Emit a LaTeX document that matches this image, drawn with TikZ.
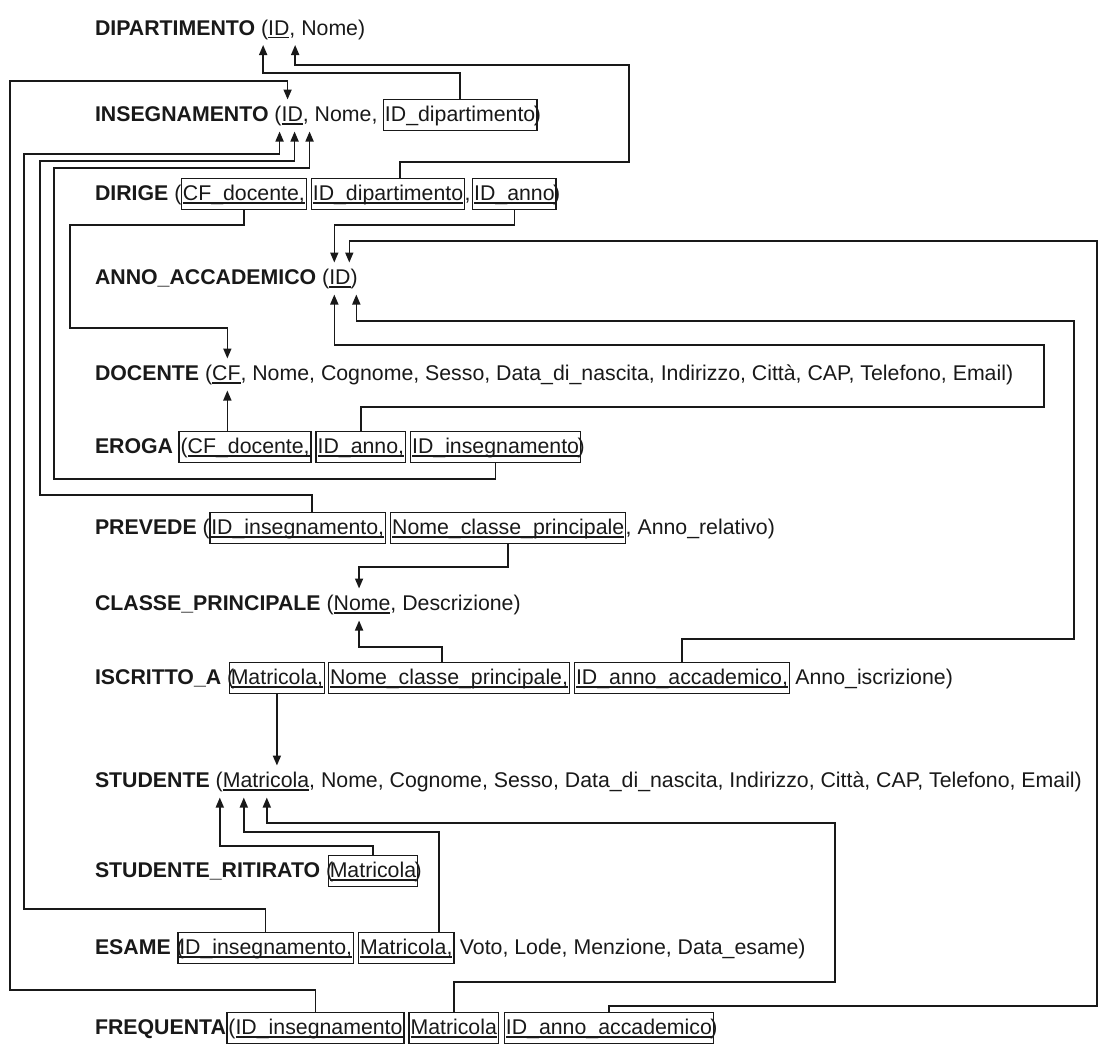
\documentclass[tikz,border=0pt]{standalone}
\usepackage{fontspec}
\setmainfont{Liberation Sans}
\usetikzlibrary{arrows.meta}
\newsavebox\ulbox
\newcommand\myul[1]{\sbox\ulbox{#1}\rlap{\rule[-3pt]{\wd\ulbox}{1.2pt}}\usebox\ulbox}
\tikzset{
  every node/.style={inner sep=0pt, outer sep=0pt, anchor=base west, text height=15pt, text depth=5pt, font=\fontsize{21.3pt}{25pt}\selectfont, text=black!90},
  rel/.style={font=\fontsize{21.3pt}{25pt}\selectfont\bfseries},
  fkbox/.style={draw=black!90, line width=1.5pt, inner xsep=1.5pt, inner ysep=5pt, text height=17pt, text depth=4pt},
  fk/.style={->, line width=1.6pt, draw=black!90},
}
\begin{document}
\begin{tikzpicture}[x=1pt, y=-1pt, >={Triangle[length=10pt,width=8pt]}]
\fill[white] (0,0) rectangle (1100,1044);
\useasboundingbox (0,0) rectangle (1100,1044);

% DIPARTIMENTO
\node[rel] (dip) at (95,35) {DIPARTIMENTO};
\node (dip1) at (dip.base east) {\ (};
\node (dipID) at (dip1.base east) {\myul{ID}};
\node (dip2) at (dipID.base east) {,\ Nome)};

% INSEGNAMENTO
\node[rel] (ins) at (95,121.5) {INSEGNAMENTO};
\node (ins1) at (ins.base east) {\ (};
\node (insID) at (ins1.base east) {\myul{ID}};
\node (ins2) at (insID.base east) {,\ Nome,};
\node[fkbox] (insDip) at ([xshift=6pt]ins2.base east) {ID\_dipartimento};
\node (ins3) at ([xshift=-3pt]insDip.base east) {)};

% DIRIGE
\node[rel] (dir) at (95,200.5) {DIRIGE};
\node (dir1) at (dir.base east) {\ (};
\node[fkbox] (dirCF) at (dir1.base east) {\myul{CF\_docente,}};
\node[fkbox] (dirDip) at ([xshift=5pt]dirCF.base east) {\myul{ID\_dipartimento}};
\node (dir2) at (dirDip.base east) {,};
\node[fkbox] (dirAnno) at ([xshift=2pt]dir2.base east) {\myul{ID\_anno}};
\node (dir3) at ([xshift=-3pt]dirAnno.base east) {)};

% ANNO_ACCADEMICO
\node[rel] (anno) at (95,284.5) {ANNO\_ACCADEMICO};
\node (anno1) at (anno.base east) {\ (};
\node (annoID) at (anno1.base east) {\myul{ID}};
\node (anno2) at (annoID.base east) {)};

% DOCENTE
\node[rel] (doc) at (95,380.5) {DOCENTE};
\node (doc1) at (doc.base east) {\ (};
\node (docCF) at (doc1.base east) {\myul{CF}};
\node (doc2) at (docCF.base east) {, Nome, Cognome, Sesso, Data\_di\_nascita, Indirizzo, Città, CAP, Telefono, Email)};

% EROGA
\node[rel] (ero) at (95,453.5) {EROGA};
\node[fkbox] (eroCF) at ([xshift=6pt]ero.base east) {(\myul{CF\_docente,}};
\node[fkbox] (eroAnno) at ([xshift=5pt]eroCF.base east) {\myul{ID\_anno,}};
\node[fkbox] (eroIns) at ([xshift=5pt]eroAnno.base east) {\myul{ID\_insegnamento}};
\node (ero2) at ([xshift=-3pt]eroIns.base east) {)};

% PREVEDE
\node[rel] (pre) at (95,534.5) {PREVEDE};
\node (pre1) at (pre.base east) {\ (};
\node[fkbox] (preIns) at (pre1.base east) {\myul{ID\_insegnamento,}};
\node[fkbox] (preNom) at ([xshift=5pt]preIns.base east) {\myul{Nome\_classe\_principale}};
\node (pre2) at (preNom.base east) {,\ Anno\_relativo)};

% CLASSE_PRINCIPALE
\node[rel] (cla) at (95,610.5) {CLASSE\_PRINCIPALE};
\node (cla1) at (cla.base east) {\ (};
\node (claNom) at (cla1.base east) {\myul{Nome}};
\node (cla2) at (claNom.base east) {,\ Descrizione)};

% ISCRITTO_A
\node[rel] (isc) at (95,684.5) {ISCRITTO\_A};
\node (isc1) at (isc.base east) {\ (};
\node[fkbox] (iscMat) at ([xshift=-5pt]isc1.base east) {\myul{Matricola,}};
\node[fkbox] (iscNom) at ([xshift=4pt]iscMat.base east) {\myul{Nome\_classe\_principale,}};
\node[fkbox] (iscAnno) at ([xshift=5pt]iscNom.base east) {\myul{ID\_anno\_accademico,}};
\node (isc2) at (iscAnno.base east) {\ Anno\_iscrizione)};

% STUDENTE
\node[rel] (stu) at (95,787.5) {STUDENTE};
\node (stu1) at (stu.base east) {\ (};
\node (stuMat) at (stu1.base east) {\myul{Matricola}};
\node (stu2) at (stuMat.base east) {, Nome, Cognome, Sesso, Data\_di\_nascita, Indirizzo, Città, CAP, Telefono, Email)};

% STUDENTE_RITIRATO
\node[rel] (rit) at (95,877.5) {STUDENTE\_RITIRATO};
\node (rit1) at (rit.base east) {\ (};
\node[fkbox] (ritMat) at ([xshift=-5pt]rit1.base east) {\myul{Matricola}};
\node (rit2) at ([xshift=-3pt]ritMat.base east) {)};

% ESAME
\node[rel] (esa) at (95,954.5) {ESAME};
\node (esa1) at (esa.base east) {\ (};
\node[fkbox] (esaIns) at ([xshift=-6pt]esa1.base east) {\myul{ID\_insegnamento,}};
\node[fkbox] (esaMat) at ([xshift=5pt]esaIns.base east) {\myul{Matricola,}};
\node (esa2) at (esaMat.base east) {\ Voto, Lode, Menzione, Data\_esame)};

% FREQUENTA
\node[rel] (fre) at (95,1034.5) {FREQUENTA};
\node[fkbox] (freIns) at ([xshift=1pt]fre.base east) {(\myul{ID\_insegnamento}};
\node[fkbox] (freMat) at ([xshift=5pt]freIns.base east) {\myul{Matricola}};
\node[fkbox] (freAnno) at ([xshift=6pt]freMat.base east) {\myul{ID\_anno\_accademico}};
\node (fre2) at ([xshift=-3pt]freAnno.base east) {)};

% arrow tips
\coordinate (tDip1) at ([shift={(-5,5)}]dipID.south west);
\coordinate (tDip2) at ([shift={(27,5)}]dipID.south west);
\coordinate (tIns0) at ([shift={(6,-7)}]insID.north west);
\coordinate (tIns1) at ([shift={(-2,5)}]insID.south west);
\coordinate (tIns2) at ([shift={(13,5)}]insID.south west);
\coordinate (tIns3) at ([shift={(28,5)}]insID.south west);
\coordinate (tAnno0) at ([shift={(5,-7)}]annoID.north west);
\coordinate (tAnno1) at ([shift={(20,-7)}]annoID.north west);
\coordinate (tAnno2) at ([shift={(5,5)}]annoID.south west);
\coordinate (tAnno3) at ([shift={(27,5)}]annoID.south west);
\coordinate (tDoc0) at ([shift={(1,-7)}]docCF.north);
\coordinate (tDoc1) at ([shift={(1,5)}]docCF.south);
\coordinate (tCla0) at ([shift={(-3,-7)}]claNom.north);
\coordinate (tCla1) at ([shift={(-3,5)}]claNom.south);
\coordinate (tStu0) at ([shift={(0,-7)}]stuMat.north);
\coordinate (tStu1) at ([shift={(-3,5)}]stuMat.south west);
\coordinate (tStu2) at ([shift={(21,5)}]stuMat.south west);
\coordinate (tStu3) at ([shift={(44,5)}]stuMat.south west);

% helper levels
\coordinate (y73) at (0,73);
\coordinate (y225) at (0,225);
\coordinate (y567) at (0,567);
\coordinate (y647) at (0,647);
\coordinate (y846) at (0,846);
\coordinate (y832) at (0,832);

% connectors
\draw[fk] (insDip.north) |- (tDip1 |- y73) -- (tDip1);
\draw[fk] ([xshift=12pt]dirDip.north) |- (629,162) -- (629,65) -| (tDip2);
\draw[fk] (freIns.north) |- (10,990) -- (10,81) -| (tIns0);
\draw[fk] (esaIns.north) |- (24,909) -- (24,154) -| (tIns1);
\draw[fk] ([xshift=14pt]preIns.north) |- (40,495) -- (40,161) -| (tIns2);
\draw[fk] (eroIns.south) |- (54,479) -- (54,168) -| (tIns3);
\draw[fk] (dirCF.south) |- (70,225) -- (70,328) -| (tDoc0);
\draw[fk] (dirAnno.south) |- (tAnno0 |- y225) -- (tAnno0);
\draw[fk] (freAnno.north) |- (1097,1006) -- (1097,241) -| (tAnno1);
\draw[fk] (iscAnno.north) |- (1074,639) -- (1074,321) -| (tAnno3);
\draw[fk] (eroAnno.north) |- (1044,407) -- (1044,345) -| (tAnno2);
\draw[fk] (eroCF.north -| tDoc1) -- (tDoc1);
\draw[fk] (preNom.south) |- (tCla0 |- y567) -- (tCla0);
\draw[fk] ([xshift=-7pt]iscNom.north) |- (tCla1 |- y647) -- (tCla1);
\draw[fk] (iscMat.south) -- (iscMat.south |- tStu0);
\draw[fk] (ritMat.north) |- (tStu1 |- y846) -- (tStu1);
\draw[fk] ([xshift=-15pt]esaMat.north east) |- (tStu2 |- y832) -- (tStu2);
\draw[fk] (freMat.north) |- (835,982) -- (835,823) -| (tStu3);
\end{tikzpicture}
\end{document}
